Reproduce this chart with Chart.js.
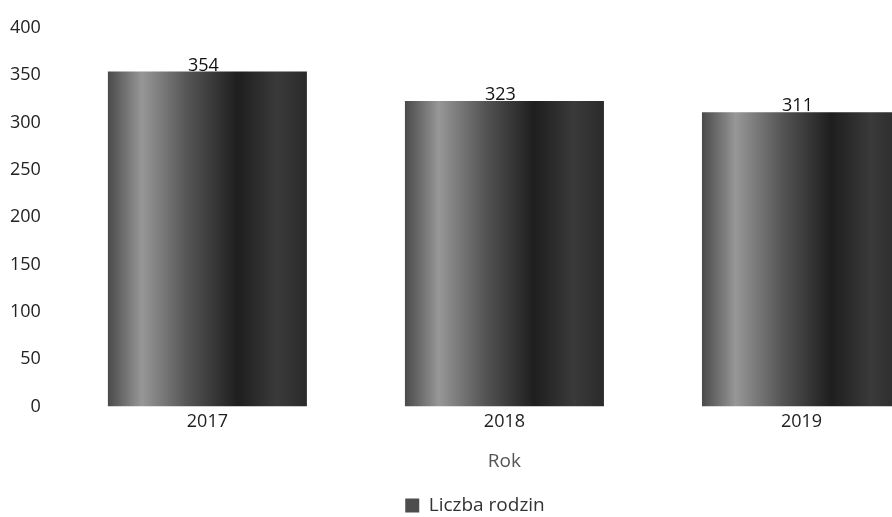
<!DOCTYPE html>
<html lang="pl">
<head>
    <meta charset="UTF-8">
    <title>Liczba rodzin</title>
    <script src="https://cdn.jsdelivr.net/npm/chart.js"></script>
    <style>
        html, body {
            margin: 0;
            padding: 0;
            background: #fff;
            overflow: hidden;
        }
        .wrap {
            width: 950px;
            height: 517px;
        }
    </style>
</head>
<body>
    <div class="wrap"><canvas id="chart"></canvas></div>
    <script>
        const years = ["2017", "2018", "2019"];
        const families = [354, 323, 311];
        const yTicks = [0, 50, 100, 150, 200, 250, 300, 350, 400];

        const FONT = "'Open Sans', 'Noto Sans', sans-serif";

        // scanned-looking gray shading across each bar
        function barFill(ctx) {
            const chart = ctx.chart;
            const x = chart.scales && chart.scales.x;
            if (!chart.chartArea || !x || ctx.dataIndex === undefined) return "#555";
            const cw = x.width / years.length;
            const w = cw * 0.67;
            const cx = x.getPixelForValue(ctx.dataIndex);
            const g = chart.ctx.createLinearGradient(cx - w / 2, 0, cx + w / 2, 0);
            g.addColorStop(0, "#4a4a4a");
            g.addColorStop(0.17, "#979797");
            g.addColorStop(0.4, "#555");
            g.addColorStop(0.65, "#1e1e1e");
            g.addColorStop(0.85, "#3a3a3a");
            g.addColorStop(1, "#2a2a2a");
            return g;
        }

        const valueLabels = {
            id: "valueLabels",
            afterDatasetsDraw(chart) {
                const c = chart.ctx;
                const meta = chart.getDatasetMeta(0);
                c.save();
                c.font = "18px " + FONT;
                c.fillStyle = "#111";
                c.textAlign = "center";
                c.textBaseline = "bottom";
                meta.data.forEach((bar, i) => {
                    c.fillText(families[i], bar.x - 4, bar.y + 3);
                });
                c.restore();
            }
        };

        new Chart(document.getElementById("chart"), {
            type: "bar",
            data: {
                labels: years,
                datasets: [{
                    label: "Liczba rodzin",
                    data: families,
                    backgroundColor: barFill,
                    borderWidth: 0,
                    categoryPercentage: 0.67,
                    barPercentage: 1
                }]
            },
            options: {
                responsive: true,
                maintainAspectRatio: false,
                animation: false,
                layout: { padding: { left: 0, top: 28, bottom: -8 } },
                plugins: {
                    tooltip: { enabled: false },
                    legend: {
                        position: "bottom",
                        align: "center",
                        labels: {
                            boxWidth: 14,
                            boxHeight: 14,
                            color: "#333",
                            font: { family: FONT, size: 19 },
                            padding: 1,
                            generateLabels(chart) {
                                return [{
                                    text: "Liczba rodzin",
                                    fillStyle: "#4d4d4d",
                                    strokeStyle: "#4d4d4d",
                                    lineWidth: 0,
                                    fontColor: "#333",
                                    datasetIndex: 0
                                }];
                            }
                        }
                    }
                },
                scales: {
                    x: {
                        grid: { display: false, drawTicks: false },
                        border: { display: false },
                        ticks: { color: "#222", font: { family: FONT, size: 18 }, padding: 4 },
                        title: {
                            display: true,
                            text: "Rok",
                            color: "#555",
                            font: { family: FONT, size: 19 },
                            padding: { top: 14, bottom: 22 }
                        }
                    },
                    y: {
                        min: 0,
                        max: 400,
                        afterBuildTicks(axis) {
                            axis.ticks = yTicks.map(v => ({ value: v }));
                        },
                        grid: { display: false },
                        border: { display: false },
                        ticks: { color: "#222", font: { family: FONT, size: 18 }, padding: 10 }
                    }
                }
            },
            plugins: [valueLabels]
        });
    </script>
</body>
</html>
